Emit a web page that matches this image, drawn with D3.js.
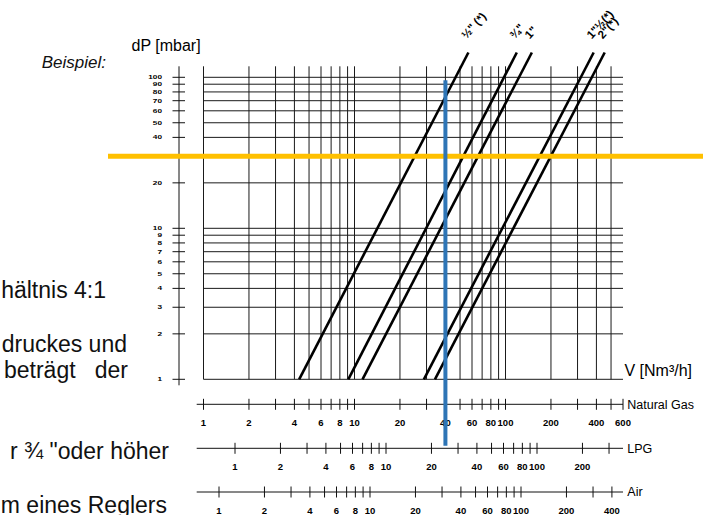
<!DOCTYPE html>
<html>
<head>
<meta charset="utf-8">
<script src="https://cdn.jsdelivr.net/npm/d3@7"></script>
<style>
  body { margin: 0; background: #fff; }
  svg { display: block; font-family: "Liberation Sans", Arial, sans-serif; }
</style>
</head>
<body>
<div id="chart"></div>
<script>
// pressure drop grid (mbar)
const dpTicks = [1, 2, 3, 4, 5, 6, 7, 8, 9, 10, 20, 30, 40, 50, 60, 70, 80, 90, 100];
const dpLabels = [1, 2, 3, 4, 5, 6, 7, 8, 9, 10, 20, 30, 40, 50, 60, 70, 80, 90, 100];
// flow grid (Nm3/h natural gas)
const vGrid = [1, 2, 3, 4, 5, 6, 7, 8, 9, 10, 20, 30, 40, 50, 60, 70, 80, 90, 100, 200, 300, 400, 500];

// valve curves: flow at dP = 1 mbar and at the upper end of the curve
const sizes = ['½" (*)', '¾"', '1"', '1"½(*)', '2"(*)'];
const flowAt1 = [4.3, 9.1, 11.3, 28.8, 34.1];
const flowAtTop = [56.8, 118.8, 149.5, 383.7, 453.9];
const dpTop = 146;

// gas scales under the chart
const ngTicks = [1, 2, 3, 4, 5, 6, 7, 8, 9, 10, 20, 30, 40, 50, 60, 70, 80, 90, 100, 200, 300, 400, 500, 600];
const ngLabels = [1, 2, 4, 6, 8, 10, 20, 40, 60, 80, 100, 200, 400, 600];
const lpgTicks = [1, 2, 3, 4, 5, 6, 7, 8, 9, 10, 20, 30, 40, 50, 60, 70, 80, 90, 100, 200, 300];
const lpgLabels = [1, 2, 4, 6, 8, 10, 20, 40, 60, 80, 100, 200];
const airTicks = [1, 2, 3, 4, 5, 6, 7, 8, 9, 10, 20, 30, 40, 50, 60, 70, 80, 90, 100, 200, 300, 400];
const airLabels = [1, 2, 4, 6, 8, 10, 20, 40, 60, 80, 100, 200, 400];

// example reading
const exampleFlow = 40;
const exampleDp = 30;

// text cut off from the surrounding document
const sideText = ["hältnis 4:1", "druckes und", "beträgt   der", "r ¾ \"oder höher", "m eines Reglers"];
const sideY = [298, 352, 378, 459, 513];
const sideEnd = [106, 127, 128, 169, 167];

const width = 708, height = 515;
const decade = 151;

const svg = d3.select("#chart")
  .append("svg")
  .attr("width", width)
  .attr("height", height);

const x = d3.scaleLog().domain([1, 10]).range([203.5, 203.5 + decade]);
const y = d3.scaleLog().domain([1, 10]).range([379.3, 379.3 - decade]);
const xLpg = d3.scaleLog().domain([1, 10]).range([235, 235 + decade]);
const xAir = d3.scaleLog().domain([1, 10]).range([219, 219 + decade]);

const gridTop = y(100) - 11;
const gridRight = x(600);

// side text
svg.append("g")
  .selectAll("text")
  .data(sideText)
  .join("text")
  .attr("x", (d, i) => sideEnd[i])
  .attr("y", (d, i) => sideY[i])
  .attr("text-anchor", "end")
  .attr("font-size", 23)
  .attr("fill", "#111")
  .style("white-space", "pre")
  .text(d => d);

svg.append("text")
  .attr("x", 106)
  .attr("y", 68)
  .attr("text-anchor", "end")
  .attr("font-size", 17)
  .attr("font-style", "italic")
  .attr("fill", "#111")
  .text("Beispiel:");

// grid
const grid = svg.append("g").attr("stroke", "#1a1a1a").attr("stroke-width", 1);
grid.selectAll(".h")
  .data(dpTicks)
  .join("line")
  .attr("x1", x(1)).attr("x2", gridRight)
  .attr("y1", d => y(d)).attr("y2", d => y(d));
grid.selectAll(".v")
  .data(vGrid)
  .join("line")
  .attr("class", "v")
  .attr("x1", d => x(d)).attr("x2", d => x(d))
  .attr("y1", gridTop).attr("y2", y(1));

// left dP axis
const yAxisX = 179;
const yAxis = svg.append("g");
yAxis.append("line")
  .attr("x1", yAxisX).attr("x2", yAxisX)
  .attr("y1", gridTop).attr("y2", y(1) + 6)
  .attr("stroke", "#111");
yAxis.selectAll(".tick")
  .data(dpTicks)
  .join("line")
  .attr("class", "tick")
  .attr("x1", yAxisX - 6.5).attr("x2", yAxisX + 6)
  .attr("y1", d => y(d)).attr("y2", d => y(d))
  .attr("stroke", "#111");
// squashed labels, as in the original scan
yAxis.selectAll("text")
  .data(dpLabels)
  .join("text")
  .attr("transform", d => `translate(162,${y(d)}) scale(1.1,0.8)`)
  .attr("dy", "0.35em")
  .attr("text-anchor", "end")
  .attr("font-size", 7.5)
  .attr("font-weight", "bold")
  .text(d => d);

svg.append("text")
  .attr("x", 131.5).attr("y", 51)
  .attr("font-size", 16)
  .text("dP [mbar]");

svg.append("text")
  .attr("x", 624.5).attr("y", 375.5)
  .attr("font-size", 16)
  .text("V [Nm³/h]");

// valve curves
const curves = svg.append("g");
curves.selectAll("line")
  .data(sizes)
  .join("line")
  .attr("x1", (d, i) => x(flowAt1[i]))
  .attr("y1", y(1))
  .attr("x2", (d, i) => x(flowAtTop[i]))
  .attr("y2", y(dpTop))
  .attr("stroke", "#000")
  .attr("stroke-width", 2.6);

curves.selectAll("text")
  .data(sizes)
  .join("text")
  .attr("transform", (d, i) => `translate(${x(flowAtTop[i]) - 2},${y(dpTop) - 13}) rotate(-48)`)
  .attr("font-size", 11.5)
  .attr("font-weight", "bold")
  .text(d => d);

// gas scales
function gasScale(scale, ticks, labels, yLine, name) {
  const g = svg.append("g");
  g.append("line")
    .attr("x1", 196.7).attr("x2", gridRight)
    .attr("y1", yLine).attr("y2", yLine)
    .attr("stroke", "#111");
  g.selectAll(".tick")
    .data(ticks)
    .join("line")
    .attr("class", "tick")
    .attr("x1", d => scale(d)).attr("x2", d => scale(d))
    .attr("y1", yLine - 5.5).attr("y2", yLine + 5.5)
    .attr("stroke", "#111");
  g.selectAll(".lab")
    .data(labels)
    .join("text")
    .attr("class", "lab")
    .attr("x", d => scale(d))
    .attr("y", yLine + 18.5)
    .attr("dy", "0.35em")
    .attr("text-anchor", "middle")
    .attr("font-size", 9.5)
    .attr("font-weight", "bold")
    .text(d => d);
  g.append("text")
    .attr("x", 627.3)
    .attr("y", yLine)
    .attr("dy", "0.35em")
    .attr("font-size", 12.5)
    .text(name);
}
gasScale(x, ngTicks, ngLabels, 404.3, "Natural Gas");
gasScale(xLpg, lpgTicks, lpgLabels, 448.3, "LPG");
gasScale(xAir, airTicks, airLabels, 492, "Air");

// example reading lines
svg.append("line")
  .attr("x1", 108).attr("x2", 703)
  .attr("y1", y(exampleDp)).attr("y2", y(exampleDp))
  .attr("stroke", "#ffc000")
  .attr("stroke-width", 5);

svg.append("line")
  .attr("x1", x(exampleFlow)).attr("x2", x(exampleFlow))
  .attr("y1", 80.3).attr("y2", 445.7)
  .attr("stroke", "#2e75b6")
  .attr("stroke-width", 4);
</script>
</body>
</html>
